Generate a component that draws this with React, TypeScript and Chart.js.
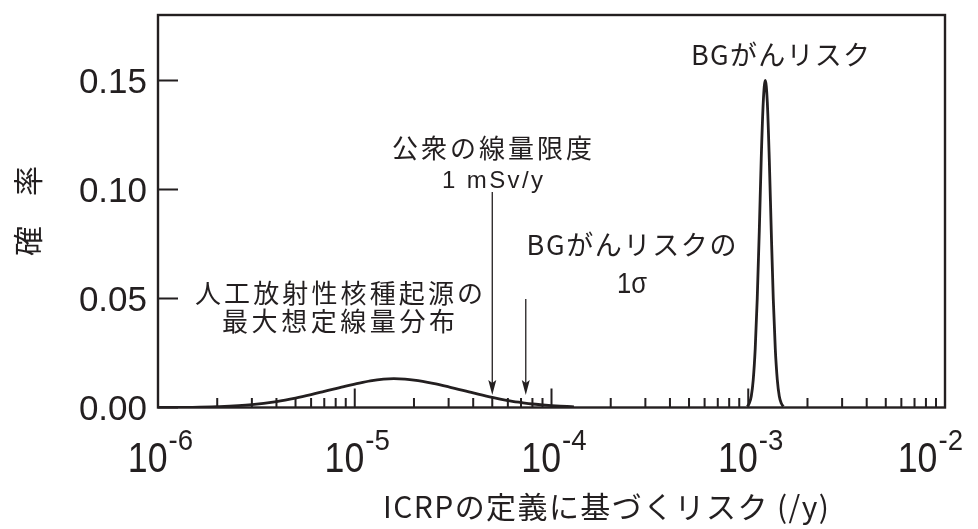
import React, { useEffect, useRef } from "react";
import { Chart, registerables } from "chart.js";

Chart.register(...registerables);

// ---------- data ----------
const xTickExponents = [-6, -5, -4, -3, -2];
const minorMultipliers = [2, 3, 4, 5, 6, 7, 8, 9];
const yTickValues = [0, 0.05, 0.1, 0.15];
const yTickLabels = ["0.00", "0.05", "0.10", "0.15"];

// 人工放射性核種起源の最大想定線量分布
const doseRisk = [
  1e-6, 1.5e-6, 2e-6, 3e-6, 4e-6, 5e-6, 6e-6, 7e-6, 8e-6, 9e-6, 1e-5, 1.2e-5,
  1.4e-5, 1.58e-5, 1.8e-5, 2e-5, 2.5e-5, 3e-5, 4e-5, 5e-5, 6e-5, 7e-5, 8e-5,
  9e-5, 1e-4, 1.2e-4, 1.3e-4,
];
const doseProb = [
  0.0, 0.0001, 0.0004, 0.0013, 0.0027, 0.0043, 0.0059, 0.0074, 0.0087, 0.0098,
  0.0107, 0.0122, 0.013, 0.0132, 0.013, 0.0126, 0.0111, 0.0095, 0.0067, 0.0046,
  0.0032, 0.0023, 0.0016, 0.0012, 0.0009, 0.0005, 0.0003,
];

// BGがんリスク
const bgRisk = [
  9.9e-4, 1.012e-3, 1.036e-3, 1.06e-3, 1.085e-3, 1.111e-3, 1.138e-3, 1.164e-3,
  1.192e-3, 1.2205e-3, 1.25e-3, 1.279e-3, 1.309e-3, 1.34e-3, 1.372e-3,
  1.405e-3, 1.438e-3, 1.472e-3, 1.507e-3,
];
const bgProb = [
  0.0005, 0.0019, 0.0052, 0.0127, 0.027, 0.05, 0.081, 0.114, 0.14, 0.15, 0.14,
  0.114, 0.081, 0.05, 0.027, 0.0127, 0.0052, 0.0019, 0.0005,
];

// arrows: 公衆の線量限度 (1 mSv/y) and BGがんリスクの1σ
const arrowRisk = [5e-5, 7.4e-5];
const arrowFromProb = [0.0988, 0.0498];
const arrowToProb = [0.0057, 0.0057];

// ---------- styles ----------
const W = 978;
const H = 529;
const INK = "#231f20";
const CJK = '"Noto Sans CJK JP", "Noto Sans CJK SC", sans-serif';
const SANS = '"Liberation Sans", Arial, sans-serif';

function fitText(ctx: any, text: string, cx: number, baseline: number, font: string, target: number) {
  ctx.save();
  ctx.font = font;
  ctx.letterSpacing = "0px";
  ctx.fillStyle = INK;
  ctx.textAlign = "left";
  ctx.textBaseline = "alphabetic";
  const n = Array.from(text).length;
  const w = ctx.measureText(text).width;
  const ls = n > 1 ? (target - w) / (n - 1) : 0;
  if (ls >= 0 && "letterSpacing" in ctx) {
    ctx.letterSpacing = ls.toFixed(2) + "px";
    ctx.fillText(text, cx - target / 2, baseline);
  } else {
    ctx.translate(cx - target / 2, baseline);
    ctx.scale(target / w, 1);
    ctx.fillText(text, 0, 0);
  }
  ctx.letterSpacing = "0px";
  ctx.restore();
}

const framePlugin = {
  id: "frame",
  beforeDatasetsDraw(chart: any) {
    const { ctx, chartArea: a, scales } = chart;
    const xs = scales.x;
    const ys = scales.y;
    ctx.save();
    ctx.strokeStyle = INK;
    ctx.lineCap = "butt";
    ctx.lineWidth = 2;
    ctx.beginPath();
    xTickExponents.forEach((e, i) => {
      const base = Math.pow(10, e);
      const px = xs.getPixelForValue(base);
      ctx.moveTo(px, a.bottom);
      ctx.lineTo(px, a.bottom - 19);
      if (i < xTickExponents.length - 1) {
        minorMultipliers.forEach((m) => {
          const p = xs.getPixelForValue(m * base);
          ctx.moveTo(p, a.bottom);
          ctx.lineTo(p, a.bottom - 9.5);
        });
      }
    });
    yTickValues.forEach((v) => {
      const py = ys.getPixelForValue(v);
      ctx.moveTo(a.left, py);
      ctx.lineTo(a.left + 20, py);
    });
    ctx.stroke();
    ctx.restore();
  },
  afterDatasetsDraw(chart: any) {
    const { ctx, chartArea: a, scales } = chart;
    const xs = scales.x;
    const ys = scales.y;
    ctx.save();
    ctx.strokeStyle = INK;
    ctx.fillStyle = INK;
    ctx.lineWidth = 2.4;
    ctx.lineJoin = "miter";
    ctx.strokeRect(a.left, a.top, a.right - a.left, a.bottom - a.top);

    // y tick labels
    ctx.font = `35px ${SANS}`;
    ctx.textAlign = "right";
    ctx.textBaseline = "alphabetic";
    yTickValues.forEach((v, i) => {
      const py = ys.getPixelForValue(v);
      ctx.fillText(yTickLabels[i], a.left - 11, py + 12.5);
    });

    // x tick labels 10^n
    ctx.textAlign = "left";
    xTickExponents.forEach((e) => {
      const px = xs.getPixelForValue(Math.pow(10, e));
      ctx.font = `42px ${SANS}`;
      const wb = ctx.measureText("10").width * 0.85;
      ctx.font = `30px ${SANS}`;
      const sup = String(e);
      const wsup = ctx.measureText(sup).width * 0.92;
      const total = wb + wsup;
      const start = Math.min(px + 2 - total / 2, chart.width - 16 - total);
      ctx.save();
      ctx.font = `42px ${SANS}`;
      ctx.translate(start, a.bottom + 64.5);
      ctx.scale(0.85, 1);
      ctx.fillText("10", 0, 0);
      ctx.restore();
      ctx.save();
      ctx.font = `30px ${SANS}`;
      ctx.translate(start + wb + 1, a.bottom + 42.5);
      ctx.scale(0.92, 1);
      ctx.fillText(sup, 0, 0);
      ctx.restore();
    });

    // y axis title (rotated)
    ctx.save();
    ctx.translate(28, 211);
    ctx.rotate(-Math.PI / 2);
    ctx.font = `30px ${CJK}`;
    ctx.textAlign = "center";
    ctx.textBaseline = "alphabetic";
    ctx.fillText("確　率", 0, 11.4);
    ctx.restore();

    // x axis title
    fitText(ctx, "ICRPの定義に基づくリスク (/y)", 606, 518, `30px ${CJK}`, 446);

    // arrows
    ctx.lineWidth = 1.3;
    arrowRisk.forEach((r, i) => {
      const px = xs.getPixelForValue(r);
      const y0 = ys.getPixelForValue(arrowFromProb[i]);
      const y1 = ys.getPixelForValue(arrowToProb[i]);
      ctx.beginPath();
      ctx.moveTo(px, y0);
      ctx.lineTo(px, y1 - 10);
      ctx.stroke();
      ctx.beginPath();
      ctx.moveTo(px, y1);
      ctx.lineTo(px - 4, y1 - 15);
      ctx.lineTo(px, y1 - 12);
      ctx.lineTo(px + 4, y1 - 15);
      ctx.closePath();
      ctx.fill();
    });

    // annotations
    fitText(ctx, "BGがんリスク", 780.5, 65, `27px ${CJK}`, 179);
    fitText(ctx, "公衆の線量限度", 492, 158, `26px ${CJK}`, 200);
    fitText(ctx, "1 mSv/y", 492.5, 188, `24px ${SANS}`, 101);
    fitText(ctx, "BGがんリスクの", 631.5, 255, `27px ${CJK}`, 210);
    fitText(ctx, "1σ", 632, 293, `30px ${SANS}`, 30);
    fitText(ctx, "人工放射性核種起源の", 339, 303, `26px ${CJK}`, 288);
    fitText(ctx, "最大想定線量分布", 338.5, 331, `26px ${CJK}`, 233);

    ctx.restore();
  },
};

export default function App() {
  const ref = useRef<HTMLCanvasElement>(null);
  useEffect(() => {
    document.body.style.margin = "0";
    const canvas = ref.current;
    if (!canvas) return;
    const chart = new Chart(canvas, {
      type: "line",
      data: {
        datasets: [
          {
            label: "人工放射性核種起源の最大想定線量分布",
            data: doseRisk.map((x, i) => ({ x, y: doseProb[i] })),
            borderColor: INK,
            borderWidth: 2.8,
            pointRadius: 0,
            cubicInterpolationMode: "monotone",
            fill: false,
          },
          {
            label: "BGがんリスク",
            data: bgRisk.map((x, i) => ({ x, y: bgProb[i] })),
            borderColor: INK,
            borderWidth: 2.8,
            pointRadius: 0,
            cubicInterpolationMode: "monotone",
            fill: false,
          },
        ],
      },
      options: {
        responsive: false,
        animation: false,
        devicePixelRatio: 1,
        events: [],
        layout: { padding: { left: 158, top: 15, right: W - 945, bottom: H - 407.5 } },
        scales: {
          x: { type: "logarithmic", min: 1e-6, max: 1e-2, display: false },
          y: { type: "linear", min: 0, max: 0.18, display: false },
        },
        plugins: { legend: { display: false }, tooltip: { enabled: false } },
      },
      plugins: [framePlugin],
    } as any);
    return () => chart.destroy();
  }, []);
  return (
    <div style={{ width: W, height: H }}>
      <canvas ref={ref} width={W} height={H} style={{ display: "block" }} />
    </div>
  );
}
